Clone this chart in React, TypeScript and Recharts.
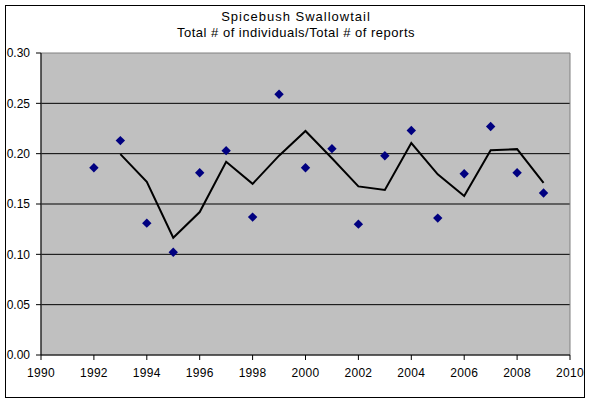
import React from "react";
import {
  ComposedChart,
  Scatter,
  Line,
  XAxis,
  YAxis,
  CartesianGrid,
  ReferenceArea,
} from "recharts";

const years = [1992, 1993, 1994, 1995, 1996, 1997, 1998, 1999, 2000, 2001, 2002, 2003, 2004, 2005, 2006, 2007, 2008, 2009];
const ratios = [0.186, 0.213, 0.131, 0.102, 0.181, 0.203, 0.137, 0.259, 0.186, 0.205, 0.130, 0.198, 0.223, 0.136, 0.180, 0.227, 0.181, 0.161];

const avgYears = [1993, 1994, 1995, 1996, 1997, 1998, 1999, 2000, 2001, 2002, 2003, 2004, 2005, 2006, 2007, 2008, 2009];
const movingAvg = [0.1995, 0.172, 0.1165, 0.142, 0.192, 0.170, 0.198, 0.2225, 0.1955, 0.1675, 0.164, 0.2105, 0.1795, 0.158, 0.2035, 0.2045, 0.171];

const xTicks = [1990, 1992, 1994, 1996, 1998, 2000, 2002, 2004, 2006, 2008, 2010];
const yTicks = [0, 0.05, 0.1, 0.15, 0.2, 0.25, 0.3];
const innerGrid = [0.05, 0.1, 0.15, 0.2, 0.25];

const titleLine1 = "Spicebush Swallowtail";
const titleLine2 = "Total # of individuals/Total # of reports";

const points = years.map((y, i) => ({ year: y, value: ratios[i] }));
const avgData = avgYears.map((y, i) => ({ year: y, avg: movingAvg[i] }));

const FONT = "'Liberation Sans', Arial, sans-serif";

const Diamond = (props: any) => {
  const { cx, cy } = props;
  const r = 4.7;
  return (
    <polygon
      points={`${cx},${cy - r} ${cx + r},${cy} ${cx},${cy + r} ${cx - r},${cy}`}
      fill="#000080"
    />
  );
};

export default function App() {
  return (
    <div style={{ position: "absolute", left: 0, top: 0, width: 592, height: 403, background: "#fff" }}>
      <div
        style={{
          position: "absolute",
          left: 5,
          top: 5,
          width: 580,
          height: 393,
          border: "1px solid #000",
          boxSizing: "border-box",
        }}
      />
      <div
        style={{
          position: "absolute",
          left: 0,
          top: 9,
          width: 592,
          textAlign: "center",
          fontFamily: FONT,
          fontSize: 13,
          lineHeight: "16px",
          color: "#000",
        }}
      >
        <div style={{ letterSpacing: 1.0 }}>{titleLine1}</div>
        <div style={{ letterSpacing: 0.5 }}>{titleLine2}</div>
      </div>
      <div style={{ position: "absolute", left: 0, top: 0 }}>
        <ComposedChart
          width={592}
          height={403}
          margin={{ top: 53, right: 22, bottom: 18, left: 0 }}
          style={{ fontFamily: FONT }}
        >
          <CartesianGrid
            fill="#C0C0C0"
            fillOpacity={1}
            vertical={false}
            horizontalValues={innerGrid}
            stroke="#000"
            strokeOpacity={1}
          />
          <ReferenceArea
            x1={1990}
            x2={2010}
            y1={0}
            y2={0.3}
            fill="none"
            stroke="#808080"
            strokeWidth={1}
            ifOverflow="visible"
          />
          <XAxis
            dataKey="year"
            type="number"
            domain={[1990, 2010]}
            ticks={xTicks}
            allowDataOverflow
            height={30}
            tickSize={5}
            tickMargin={8}
            stroke="#000"
            tick={{ fill: "#000", fontSize: 12, fontFamily: FONT, letterSpacing: 0.3 }}
            interval={0}
          />
          <YAxis
            type="number"
            domain={[0, 0.3]}
            ticks={yTicks}
            width={41}
            tickSize={5}
            tickMargin={6}
            stroke="#000"
            tick={{ fill: "#000", fontSize: 12, fontFamily: FONT }}
            tickFormatter={(v: number) => v.toFixed(2)}
            interval={0}
          />
          <Line
            data={avgData}
            dataKey="avg"
            type="linear"
            stroke="#000"
            strokeWidth={2}
            dot={false}
            activeDot={false}
            isAnimationActive={false}
          />
          <Scatter data={points} dataKey="value" shape={<Diamond />} isAnimationActive={false} />
        </ComposedChart>
      </div>
    </div>
  );
}
